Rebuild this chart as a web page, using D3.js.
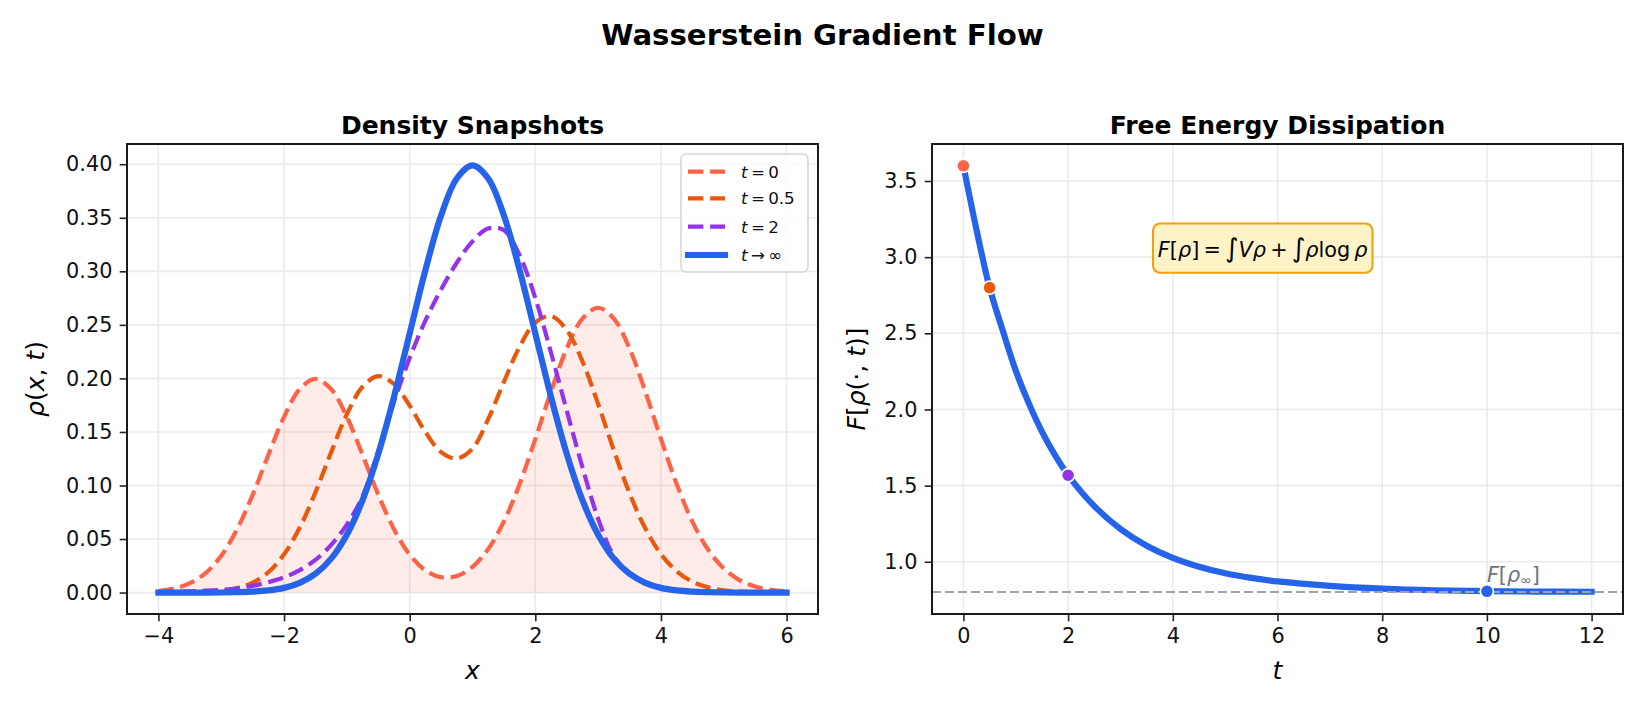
<!DOCTYPE html>
<html>
<head>
<meta charset="utf-8">
<script src="https://cdn.jsdelivr.net/npm/d3@7"></script>
<style>
  body { margin: 0; background: #fff; }
  text { font-family: "DejaVu Sans", sans-serif; }
</style>
</head>
<body>
<svg id="fig" width="1645" height="708"></svg>
<script>
// Sample positions on the x axis of the density panel
const xs = [-4, -3.75, -3.5, -3.25, -3, -2.75, -2.5, -2.25, -2, -1.75, -1.5, -1.25, -1, -0.75, -0.5, -0.25,
  0, 0.25, 0.5, 0.75, 1, 1.25, 1.5, 1.75, 2, 2.25, 2.5, 2.75, 3, 3.25, 3.5, 3.75, 4, 4.25, 4.5, 4.75,
  5, 5.25, 5.5, 5.75, 6];

// Density snapshots
const rhoT0 = [0.0015, 0.0038, 0.0088, 0.0182, 0.0344, 0.0589, 0.0913, 0.1285, 0.1641, 0.1900, 0.1995, 0.1900,
  0.1641, 0.1286, 0.0915, 0.0592, 0.0354, 0.0207, 0.0144, 0.0155, 0.0240, 0.0407, 0.0665, 0.1014, 0.1435,
  0.1879, 0.2279, 0.2559, 0.2660, 0.2559, 0.2279, 0.1879, 0.1435, 0.1014, 0.0663, 0.0402, 0.0225, 0.0117,
  0.0056, 0.0025, 0.0010];
const rhoT05 = [0.0000, 0.0001, 0.0002, 0.0006, 0.0016, 0.0040, 0.0092, 0.0190, 0.0357, 0.0607, 0.0936, 0.1311,
  0.1665, 0.1922, 0.2022, 0.1948, 0.1746, 0.1500, 0.1312, 0.1252, 0.1345, 0.1620, 0.1968, 0.2296, 0.2522,
  0.2582, 0.2452, 0.2159, 0.1761, 0.1328, 0.0928, 0.0600, 0.0360, 0.0199, 0.0102, 0.0049, 0.0021, 0.0009,
  0.0003, 0.0001, 0.0000];
const rhoT2 = [0.0005, 0.0008, 0.0012, 0.0018, 0.0026, 0.0040, 0.0063, 0.0097, 0.0142, 0.0210, 0.0305, 0.0445,
  0.0635, 0.0900, 0.1320, 0.1780, 0.2190, 0.2540, 0.2830, 0.3080, 0.3280, 0.3400, 0.3385, 0.3150, 0.2750,
  0.2240, 0.1700, 0.1170, 0.0690, 0.0340, 0.0175, 0.0091, 0.0044, 0.0020, 0.0009, 0.0003, 0.0001, 0.0000,
  0.0000, 0.0000, 0.0000];
const rhoInf = [0.0000, 0.0000, 0.0000, 0.0000, 0.0001, 0.0004, 0.0009, 0.0020, 0.0044, 0.0091, 0.0175, 0.0317,
  0.0540, 0.0863, 0.1295, 0.1827, 0.2420, 0.3011, 0.3521, 0.3867, 0.3989, 0.3867, 0.3521, 0.3011, 0.2420,
  0.1827, 0.1295, 0.0863, 0.0540, 0.0317, 0.0175, 0.0091, 0.0044, 0.0020, 0.0009, 0.0004, 0.0001, 0.0000,
  0.0000, 0.0000, 0.0000];

// Free energy along the flow
const tVals = [0, 0.25, 0.5, 0.75, 1, 1.25, 1.5, 1.75, 2, 2.5, 3, 3.5, 4, 4.5, 5, 5.5, 6, 7, 8, 9, 10, 11, 12];
const energy = [3.60, 3.18, 2.80, 2.52, 2.255, 2.04, 1.855, 1.70, 1.568, 1.365, 1.215, 1.105, 1.025, 0.967,
  0.925, 0.894, 0.871, 0.842, 0.824, 0.813, 0.807, 0.804, 0.803];
const fInf = 0.802;
const markT = [0, 0.5, 2, 10];
const markF = [3.60, 2.80, 1.568, 0.806];

const snapLabels = ["0", "0.5", "2", "∞"];
const colors = ["#ff6347", "#ea580c", "#9333ea", "#2563eb"];

const xTicksL = [-4, -2, 0, 2, 4, 6];
const yTicksL = [0, 0.05, 0.1, 0.15, 0.2, 0.25, 0.3, 0.35, 0.4];
const xTicksR = [0, 2, 4, 6, 8, 10, 12];
const yTicksR = [1.0, 1.5, 2.0, 2.5, 3.0, 3.5];

const svg = d3.select("#fig");
const tickFont = "20.8px";
const thin = "\u2009";

// write a string made of [text, italic, size, dy] runs
function mathText(sel, parts) {
  parts.forEach((p) => {
    const ts = sel.append("tspan").text(p[0]);
    if (p[1]) ts.style("font-style", "italic");
    if (p[2]) ts.style("font-size", p[2]);
    if (p[3]) ts.attr("dy", p[3]);
  });
  return sel;
}

function frame(x, y, xTicks, yTicks, yFmt) {
  const [x0, x1] = x.range();
  const [y0, y1] = y.range();
  const g = svg.append("g");
  // grid
  g.selectAll(".vg").data(xTicks).enter().append("line")
    .attr("x1", (d) => x(d)).attr("x2", (d) => x(d)).attr("y1", y1).attr("y2", y0)
    .attr("stroke", "#ebebeb").attr("stroke-width", 1.6);
  g.selectAll(".hg").data(yTicks).enter().append("line")
    .attr("x1", x0).attr("x2", x1).attr("y1", (d) => y(d)).attr("y2", (d) => y(d))
    .attr("stroke", "#ebebeb").attr("stroke-width", 1.6);

  const ax = svg.append("g").attr("transform", `translate(0,${y0})`)
    .call(d3.axisBottom(x).tickValues(xTicks).tickSizeOuter(0).tickSize(7.3).tickPadding(7.3).tickFormat(d3.format("d")));
  const ay = svg.append("g").attr("transform", `translate(${x0},0)`)
    .call(d3.axisLeft(y).tickValues(yTicks).tickSizeOuter(0).tickSize(7.3).tickPadding(7.3).tickFormat(d3.format(yFmt)));
  [ax, ay].forEach((a) => {
    a.select(".domain").remove();
    a.selectAll("line").attr("stroke", "#222").attr("stroke-width", 1.6);
    a.selectAll("text").style("font-size", tickFont).attr("fill", "#111")
      .style("font-family", "DejaVu Sans");
  });
  return g;
}

function spines(x, y) {
  const [x0, x1] = x.range();
  const [y0, y1] = y.range();
  svg.append("rect").attr("x", x0).attr("y", y1).attr("width", x1 - x0).attr("height", y0 - y1)
    .attr("fill", "none").attr("stroke", "#1a1a1a").attr("stroke-width", 2);
}

// ---------- left panel ----------
const xL = d3.scaleLinear().domain([-4.5, 6.5]).range([127, 818]);
const yL = d3.scaleLinear().domain([-0.02, 0.4189]).range([614, 144]);
frame(xL, yL, xTicksL, yTicksL, ".2f");

const curve = d3.curveCatmullRom.alpha(0.5);
const area = d3.area().x((d, i) => xL(xs[i])).y0(yL(0)).y1((d) => yL(d)).curve(curve);
svg.append("path").datum(rhoT0).attr("d", area).attr("fill", colors[0]).attr("fill-opacity", 0.12);

const line = d3.line().x((d, i) => xL(xs[i])).y((d) => yL(d)).curve(curve);
[rhoT0, rhoT05, rhoT2].forEach((s, k) => {
  svg.append("path").datum(s).attr("d", line).attr("fill", "none")
    .attr("stroke", colors[k]).attr("stroke-width", 4.2).attr("stroke-dasharray", "15.4,6.7")
    .attr("stroke-linejoin", "round");
});
svg.append("path").datum(rhoInf).attr("d", line).attr("fill", "none")
  .attr("stroke", colors[3]).attr("stroke-width", 6.2).attr("stroke-linecap", "square")
  .attr("stroke-linejoin", "round");

spines(xL, yL);

// legend
const lg = svg.append("g");
lg.append("rect").attr("x", 681).attr("y", 154).attr("width", 127).attr("height", 118).attr("rx", 5)
  .attr("fill", "#fff").attr("fill-opacity", 0.8).attr("stroke", "#d6d6d6").attr("stroke-width", 1.6);
const rowY = [171.7, 198.3, 226.7, 255];
snapLabels.forEach((lab, k) => {
  const l = lg.append("line").attr("x1", 688).attr("x2", 725).attr("y1", rowY[k]).attr("y2", rowY[k])
    .attr("stroke", colors[k]);
  if (k < 3) l.attr("stroke-width", 4.2).attr("stroke-dasharray", "15.4,6.7");
  else l.attr("stroke-width", 6.2).attr("stroke-linecap", "square");
  const t = lg.append("text").attr("x", 741).attr("y", rowY[k] + 6).style("font-size", "16.7px").attr("fill", "#111");
  if (k < 3) mathText(t, [["t", true], [thin + "=" + thin + lab, false]]);
  else mathText(t, [["t", true], [thin + "→" + thin + "∞", false]]);
});

// titles & labels
svg.append("text").attr("x", (127 + 818) / 2).attr("y", 133.5).attr("text-anchor", "middle")
  .style("font-size", "25px").style("font-weight", "bold").text("Density Snapshots");
mathText(svg.append("text").attr("x", (127 + 818) / 2).attr("y", 679).attr("text-anchor", "middle")
  .style("font-size", "25px"), [["x", true]]);
mathText(svg.append("text").attr("transform", "translate(44,379) rotate(-90)").attr("text-anchor", "middle")
  .style("font-size", "25px"), [["ρ", true], ["(", false], ["x", true], [", ", false], ["t", true], [")", false]]);

// ---------- right panel ----------
const xR = d3.scaleLinear().domain([-0.6, 12.6]).range([932, 1623]);
const yR = d3.scaleLinear().domain([0.657, 3.743]).range([614, 144]);
frame(xR, yR, xTicksR, yTicksR, ".1f");

const eLine = d3.line().x((d, i) => xR(tVals[i])).y((d) => yR(d)).curve(curve);
svg.append("path").datum(energy).attr("d", eLine).attr("fill", "none")
  .attr("stroke", colors[3]).attr("stroke-width", 6.2).attr("stroke-linecap", "square")
  .attr("stroke-linejoin", "round");

svg.append("line").attr("x1", 932).attr("x2", 1623).attr("y1", yR(fInf)).attr("y2", yR(fInf))
  .attr("stroke", "#9ca3af").attr("stroke-width", 2).attr("stroke-dasharray", "9,4");

svg.selectAll(".mk").data(markT).enter().append("circle")
  .attr("cx", (d) => xR(d)).attr("cy", (d, i) => yR(markF[i])).attr("r", 6.6)
  .attr("fill", (d, i) => colors[i]).attr("stroke", "#fff").attr("stroke-width", 1.6);

mathText(svg.append("text").attr("x", xR(10)).attr("y", yR(0.87)).style("font-size", "20.8px").attr("fill", "#6b7280"),
  [["F", true], ["[", false], ["ρ", true], ["∞", false, "14px", "3"], ["]", false, null, "-3"]]);

// annotation box
svg.append("rect").attr("x", 1153).attr("y", 223.5).attr("width", 219.5).attr("height", 49.3).attr("rx", 7)
  .attr("fill", "#fef3c7").attr("stroke", "#f59e0b").attr("stroke-width", 2);
mathText(svg.append("text").attr("x", 1262.7).attr("y", 256.7).attr("text-anchor", "middle").style("font-size", "20.8px"),
  [["F", true], ["[", false], ["ρ", true], ["]" + thin + "=" + thin, false], ["∫", false, "26px"], ["Vρ", true],
   [thin + "+" + thin, false], ["∫", false, "26px"], ["ρ", true], ["log" + thin, false], ["ρ", true]]);

spines(xR, yR);

svg.append("text").attr("x", (932 + 1623) / 2).attr("y", 133.5).attr("text-anchor", "middle")
  .style("font-size", "25px").style("font-weight", "bold").text("Free Energy Dissipation");
mathText(svg.append("text").attr("x", (932 + 1623) / 2).attr("y", 679).attr("text-anchor", "middle")
  .style("font-size", "25px"), [["t", true]]);
mathText(svg.append("text").attr("transform", "translate(865,379) rotate(-90)").attr("text-anchor", "middle")
  .style("font-size", "25px"), [["F", true], ["[", false], ["ρ", true], ["(·, ", false], ["t", true], [")]", false]]);

// suptitle
svg.append("text").attr("x", 822.5).attr("y", 45).attr("text-anchor", "middle")
  .style("font-size", "29.2px").style("font-weight", "bold").text("Wasserstein Gradient Flow");
</script>
</body>
</html>
